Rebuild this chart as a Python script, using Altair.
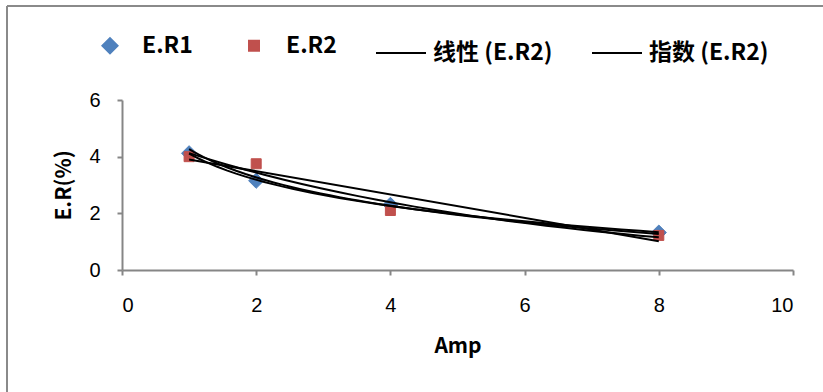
import altair as alt
import pandas as pd

amp = [1, 2, 4, 8]
er1 = [4.12, 3.15, 2.30, 1.32]
er2 = [4.00, 3.75, 2.10, 1.22]

legend_labels = ["E.R1", "E.R2", "线性 (E.R2)", "指数 (E.R2)"]
legend_colors = ["#4F81BD", "#C0504D", "black", "black"]
legend_shapes = ["diamond", "square", "stroke", "stroke"]
legend_sizes = [230, 100, 2500, 2500]

x_ticks = [0, 2, 4, 6, 8, 10]
y_ticks = [0, 2, 4, 6]

rows = []
for a, v in zip(amp, er1):
    rows.append({"amp": a, "er": v, "series": "E.R1"})
for a, v in zip(amp, er2):
    rows.append({"amp": a, "er": v, "series": "E.R2"})
df = pd.DataFrame(rows)

xenc = alt.X("amp:Q", scale=alt.Scale(domain=[0, 10], nice=False),
             axis=alt.Axis(values=x_ticks, title="Amp", format="d"))
yenc = alt.Y("er:Q", scale=alt.Scale(domain=[0, 6], nice=False),
             axis=alt.Axis(values=y_ticks, title="E.R(%)", format="d"))

legend = alt.Legend(
    orient="none", legendX=-38, legendY=-73, direction="horizontal", columns=4,
    title=None, labelFont="Noto Sans CJK SC", labelFontWeight="bold",
    labelFontSize=23, labelColor="black", symbolStrokeWidth=2,
    columnPadding=35, labelOffset=6, symbolOpacity=1, padding=0,
)

base = alt.Chart(df)

points = base.mark_point(filled=True, opacity=1, strokeWidth=1).encode(
    x=xenc, y=yenc,
    color=alt.Color("series:N", scale=alt.Scale(domain=legend_labels, range=legend_colors), legend=legend),
    stroke=alt.Stroke("series:N", scale=alt.Scale(domain=legend_labels, range=legend_colors), legend=legend),
    shape=alt.Shape("series:N", scale=alt.Scale(domain=legend_labels, range=legend_shapes), legend=legend),
    size=alt.Size("series:N", scale=alt.Scale(type="ordinal", domain=legend_labels, range=legend_sizes), legend=legend),
)


def trend(series, method):
    return base.transform_filter(alt.datum.series == series).transform_regression(
        "amp", "er", method=method, extent=[1, 8]
    ).mark_line(color="black", strokeWidth=2).encode(x="amp:Q", y="er:Q")


lines = [
    trend("E.R2", "linear"),
    trend("E.R2", "exp"),
    trend("E.R1", "log"),
    trend("E.R2", "log"),
]

frame_top = alt.Chart(df).mark_rule(color="#8a8a8a", strokeWidth=2).encode(
    x=alt.value(-115), x2=alt.value(720), y=alt.value(-94))
frame_left = alt.Chart(df).mark_rule(color="#8a8a8a", strokeWidth=2).encode(
    x=alt.value(-115), y=alt.value(-94), y2=alt.value(300))

chart = alt.layer(frame_top, frame_left, points, *lines).properties(
    width=671, height=170,
    autosize=alt.AutoSizeParams(type="none"),
    padding={"left": 122, "top": 100, "right": 30, "bottom": 122},
).configure_view(stroke=None).configure_axis(
    grid=False, domainColor="#868686", domainWidth=2, tickColor="#868686",
    tickWidth=2, tickSize=5, labelFont="Liberation Sans", labelFontSize=20,
    labelColor="black", titleFont="Noto Sans CJK SC", titleFontWeight="bold",
    titleFontSize=21, titleColor="black",
).configure_axisX(labelPadding=20, titlePadding=20).configure_axisY(
    labelPadding=17, titlePadding=14)

chart.save("out.html", embed_options={"renderer": "svg", "actions": False})
